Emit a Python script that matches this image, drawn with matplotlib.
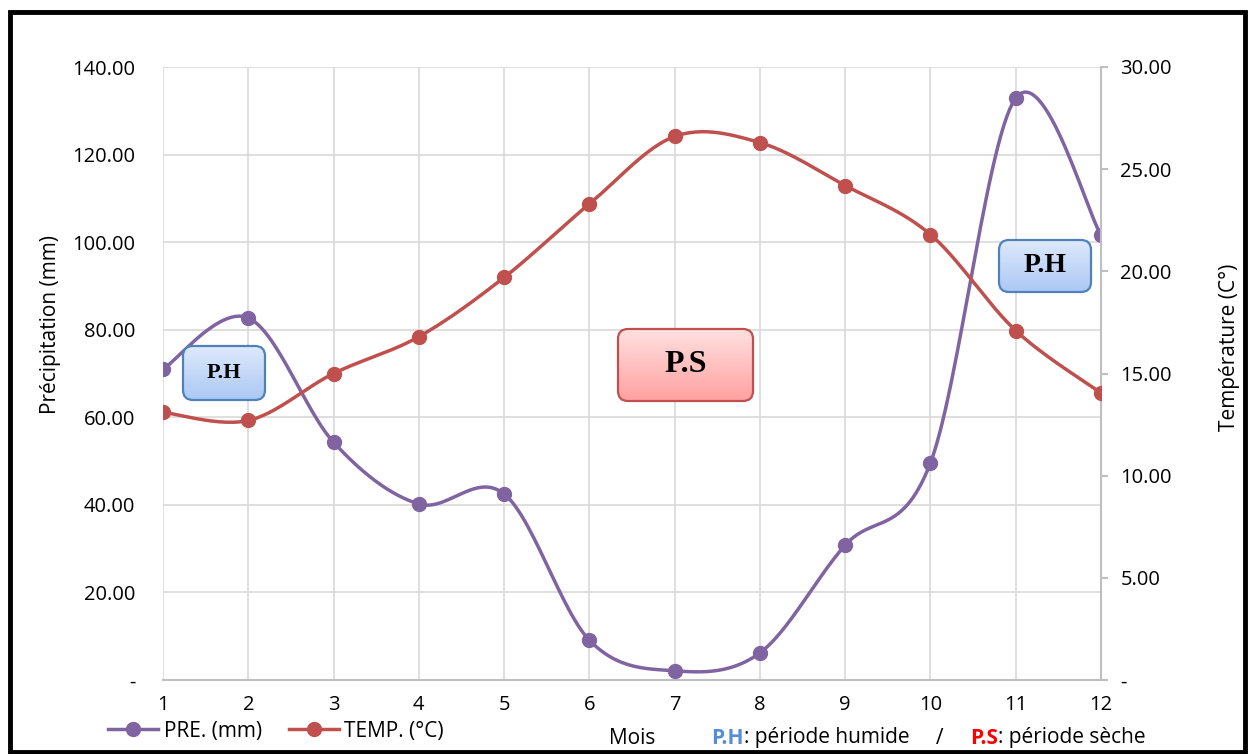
import numpy as np
import matplotlib
matplotlib.use("Agg")
import matplotlib.pyplot as plt
from matplotlib.patches import FancyBboxPatch, Rectangle
from matplotlib.ticker import FuncFormatter, MultipleLocator

plt.rcParams['font.family'] = ['Open Sans', 'DejaVu Sans']

months = [1, 2, 3, 4, 5, 6, 7, 8, 9, 10, 11, 12]
pre_mm = [71.0, 82.7, 54.3, 40.2, 42.5, 9.1, 2.1, 6.2, 30.8, 49.6, 132.9, 101.6]
temp_c = [13.1, 12.7, 15.0, 16.8, 19.7, 23.3, 26.6, 26.3, 24.2, 21.8, 17.1, 14.05]

PURPLE = '#8064A2'
RED = '#C0504D'
GRID = '#d9d9d9'
W, H = 1249, 754


def smooth(x, y, n=30):
    # excel-like smoothing: cubic bezier with catmull-rom control points
    x = np.asarray(x, float)
    y = np.asarray(y, float)
    px = np.concatenate([[x[0]], x, [x[-1]]])
    py = np.concatenate([[y[0]], y, [y[-1]]])
    xs, ys = [], []
    t = np.linspace(0, 1, n)
    for i in range(1, len(px) - 2):
        p0 = np.array([px[i], py[i]])
        p3 = np.array([px[i + 1], py[i + 1]])
        p1 = p0 + (np.array([px[i + 1], py[i + 1]]) - np.array([px[i - 1], py[i - 1]])) / 6
        p2 = p3 - (np.array([px[i + 2], py[i + 2]]) - np.array([px[i], py[i]])) / 6
        b = ((1 - t) ** 3)[:, None] * p0 + (3 * (1 - t) ** 2 * t)[:, None] * p1 \
            + (3 * (1 - t) * t ** 2)[:, None] * p2 + (t ** 3)[:, None] * p3
        xs.append(b[:, 0])
        ys.append(b[:, 1])
    return np.concatenate(xs), np.concatenate(ys)


def fig_rect(x0, y0, x1, y1):
    return [x0 / W, 1 - y1 / H, (x1 - x0) / W, (y1 - y0) / H]


def add_box(fig, px, label, top, bottom, edge, size):
    x0, y0, x1, y1 = px
    bax = fig.add_axes(fig_rect(x0 - 3, y0 - 3, x1 + 3, y1 + 3))
    bax.set_axis_off()
    bax.set_xlim(0, 1)
    bax.set_ylim(0, 1)
    wpx, hpx = x1 - x0 + 6, y1 - y0 + 6
    r = 10 / wpx
    patch = FancyBboxPatch((3 / wpx, 3 / hpx), 1 - 6 / wpx, 1 - 6 / hpx,
                           boxstyle=f"round,pad=0,rounding_size={r}",
                           mutation_aspect=wpx / hpx, fc='none', ec=edge, lw=1.6,
                           transform=bax.transAxes, zorder=3)
    bax.add_patch(patch)
    grad = np.linspace(0, 1, 100)[:, None]
    c0 = np.array(matplotlib.colors.to_rgb(top))
    c1 = np.array(matplotlib.colors.to_rgb(bottom))
    img = c0[None, None, :] * (1 - grad[:, :, None]) + c1[None, None, :] * grad[:, :, None]
    im = bax.imshow(img, extent=(0, 1, 0, 1), aspect='auto', origin='upper', zorder=2)
    im.set_clip_path(patch)
    bax.text(0.5, 0.5, label, ha='center', va='center', fontsize=size, fontweight='bold',
             family='Liberation Serif', transform=bax.transAxes, zorder=4)


fig = plt.figure(figsize=(W / 100, H / 100), dpi=100)
ax = fig.add_axes(fig_rect(163, 67, 1101, 680))
ax2 = ax.twinx()

ax.set_xlim(1, 12)
ax.set_ylim(0, 140)
ax2.set_ylim(0, 30)
ax.set_xticks(months)
ax.yaxis.set_major_locator(MultipleLocator(20))
ax2.yaxis.set_major_locator(MultipleLocator(5))
fmt = FuncFormatter(lambda v, p: '-' if abs(v) < 1e-9 else f'{v:.2f}')
ax.yaxis.set_major_formatter(fmt)
ax2.yaxis.set_major_formatter(fmt)

ax.grid(True, color=GRID, lw=1.2)
ax.set_axisbelow(True)
for a in (ax, ax2):
    for s in a.spines.values():
        s.set_visible(False)
ax2.spines['right'].set_visible(True)
ax2.spines['right'].set_color('#bfbfbf')
ax2.spines['right'].set_linewidth(1.5)
ax.spines['bottom'].set_visible(True)
ax.spines['bottom'].set_color('#bfbfbf')
ax.spines['bottom'].set_linewidth(1.5)

ax.tick_params(axis='y', length=0, pad=20, labelsize=14.5)
ax.tick_params(axis='x', length=0, pad=11, labelsize=14.5)
ax2.tick_params(axis='y', length=5, width=1.5, color='#bfbfbf', pad=9, labelsize=14.5)

sx, sy = smooth(months, pre_mm)
ax.plot(sx, sy, color=PURPLE, lw=2.5, zorder=3)
ax.plot(months, pre_mm, 'o', color=PURPLE, ms=10, zorder=4)
tx, ty = smooth(months, temp_c)
ax2.plot(tx, ty, color=RED, lw=2.5, zorder=3)
ax2.plot(months, temp_c, 'o', color=RED, ms=10, zorder=4)

ax.set_ylabel('Précipitation (mm)', fontsize=15)
ax.yaxis.set_label_coords(61 / W, 1 - 325 / H, transform=fig.transFigure)
ax2.set_ylabel('Température (C°)', fontsize=15, rotation=90)
ax2.yaxis.set_label_coords(1219 / W, 1 - 347 / H, transform=fig.transFigure)

# legend
h1, = ax.plot([], [], '-o', color=PURPLE, lw=2.5, ms=10)
h2, = ax.plot([], [], '-o', color=RED, lw=2.5, ms=10)
fig.legend([h1, h2], ['PRE. (mm)', 'TEMP. (°C)'], loc='center left',
           bbox_to_anchor=(98 / W, 1 - 731 / H), ncol=2, frameon=False,
           fontsize=15, handlelength=2.4, handletextpad=0.25, columnspacing=1.3,
           borderpad=0)

fig.text(632 / W, 1 - 738 / H, 'Mois', ha='center', va='center', fontsize=15)

parts = [('P.H', '#558ED5', 'bold'), (': période humide', 'black', 'normal'),
         ('     /     ', 'black', 'normal'), ('P.S', '#FF0000', 'bold'),
         (': période sèche', 'black', 'normal')]
renderer = fig.canvas.get_renderer()
xpos = 711
for s, c, w in parts:
    t = fig.text(xpos / W, 1 - 738 / H, s, ha='left', va='center', fontsize=15,
                 color=c, fontweight=w)
    bb = t.get_window_extent(renderer)
    xpos += bb.width

add_box(fig, (183, 346, 265, 400), 'P.H', '#e0ebfc', '#a9c6f3', '#4f81bd', 16)
add_box(fig, (618, 329, 753, 401), 'P.S', '#ffe3e3', '#ff9e9e', '#c0504d', 23)
add_box(fig, (999, 240, 1091, 292), 'P.H', '#e0ebfc', '#a9c6f3', '#4f81bd', 20)

fig.patches.append(Rectangle((10 / W, 2 / H), 1235 / W, 740 / H, fill=False,
                             ec='black', lw=3.5, transform=fig.transFigure, figure=fig))

fig.savefig('out.png', dpi=100)
